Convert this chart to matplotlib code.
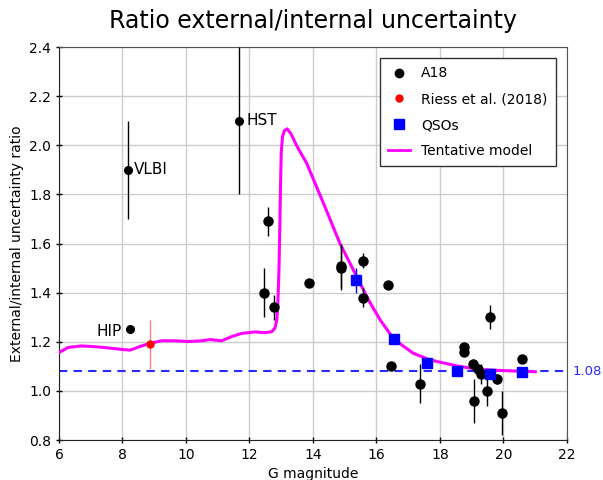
import matplotlib
matplotlib.use("Agg")
import matplotlib.pyplot as plt
from matplotlib.lines import Line2D

plt.rcParams['font.family'] = ['DejaVu Sans']

# A18 sources
a18_g = [12.46, 12.58, 12.77, 13.87, 14.87, 14.87, 15.57, 15.57, 16.37, 16.46,
         17.38, 18.76, 18.76, 19.05, 19.08, 19.20, 19.28, 19.47, 19.56, 19.78,
         19.96, 20.57]
a18_ratio = [1.40, 1.69, 1.34, 1.44, 1.51, 1.50, 1.53, 1.38, 1.43, 1.10,
             1.03, 1.18, 1.16, 1.11, 0.96, 1.09, 1.07, 1.00, 1.30, 1.05,
             0.91, 1.13]
a18_err = [0.10, 0.06, 0.05, 0.0, 0.09, 0.09, 0.03, 0.04, 0.0, 0.0,
           0.08, 0.0, 0.0, 0.02, 0.09, 0.02, 0.04, 0.06, 0.05, 0.02,
           0.09, 0.0]

# Reference catalogues labelled on the plot
ref_names = ["VLBI", "HST", "HIP"]
ref_g = [8.17, 11.67, 8.24]
ref_ratio = [1.90, 2.10, 1.25]
ref_err = [0.20, 0.30, 0.0]

# Riess et al. (2018)
riess_g = [8.87]
riess_ratio = [1.19]
riess_err = [0.10]

# QSOs
qso_g = [15.35, 16.56, 17.58, 18.54, 19.57, 20.57]
qso_ratio = [1.45, 1.21, 1.115, 1.081, 1.069, 1.078]
qso_err = [0.05, 0.0, 0.0, 0.0, 0.0, 0.0]

# Tentative model curve
model_g = [5.98, 6.29, 6.71, 7.13, 7.55, 7.97, 8.24, 8.60, 8.87, 9.23, 9.65,
           10.07, 10.49, 10.76, 11.12, 11.44, 11.75, 12.17, 12.49, 12.70,
           12.80, 12.86, 12.89, 12.93, 12.96, 12.98, 13.00, 13.04, 13.10,
           13.19, 13.30, 13.50, 13.80, 14.33, 14.85, 15.38, 15.75, 16.11,
           16.55, 17.16, 17.69, 18.56, 19.26, 20.30, 21.00]
model_ratio = [1.155, 1.177, 1.183, 1.180, 1.175, 1.169, 1.166, 1.183, 1.194,
               1.204, 1.204, 1.201, 1.204, 1.209, 1.204, 1.221, 1.234, 1.240,
               1.237, 1.241, 1.255, 1.289, 1.343, 1.50, 1.70, 1.85, 1.97,
               2.035, 2.060, 2.067, 2.048, 1.995, 1.927, 1.764, 1.600, 1.465,
               1.370, 1.290, 1.210, 1.153, 1.126, 1.101, 1.087, 1.081, 1.078]

floor_level = 1.08

fig = plt.figure(figsize=(6.03, 4.80), dpi=100)
ax = fig.add_axes([0.0978, 0.0833, 0.8425, 0.8187])

ax.grid(True, color='#cccccc', lw=1.0, zorder=0)
ax.set_axisbelow(True)

ax.axhline(floor_level, color='#2a2aff', ls=(0, (4, 3)), lw=1.5, zorder=2)

ax.plot(model_g, model_ratio, color='#ff00ff', lw=2.2, zorder=3)

ax.errorbar(a18_g, a18_ratio, yerr=a18_err, fmt='o', color='black',
            ms=6.5, elinewidth=1.0, capsize=0, zorder=4)
ax.errorbar(ref_g, ref_ratio, yerr=ref_err, fmt='o', color='black',
            ms=5.5, elinewidth=1.0, capsize=0, zorder=4)
ax.errorbar(riess_g, riess_ratio, yerr=riess_err, fmt='o', color='red',
            ecolor='#ff8080', ms=5, elinewidth=1.0, capsize=0, zorder=4)
ax.errorbar(qso_g, qso_ratio, yerr=qso_err, fmt='s', color='blue',
            ms=7, elinewidth=1.0, capsize=0, zorder=5)

ax.text(ref_g[0] + 0.18, ref_ratio[0], ref_names[0], fontsize=11,
        va='center', ha='left')
ax.text(ref_g[1] + 0.25, ref_ratio[1], ref_names[1], fontsize=11,
        va='center', ha='left')
ax.text(ref_g[2] - 0.25, ref_ratio[2] - 0.01, ref_names[2], fontsize=11,
        va='center', ha='right')

ax.text(1.01, floor_level, "1.08", transform=ax.get_yaxis_transform(),
        color='#2a2aff', fontsize=9.5, va='center', ha='left')

ax.set_xlim(6, 22)
ax.set_ylim(0.8, 2.4)
ax.set_xticks([6, 8, 10, 12, 14, 16, 18, 20, 22])
ax.set_yticks([0.8, 1.0, 1.2, 1.4, 1.6, 1.8, 2.0, 2.2, 2.4])
ax.tick_params(direction='inout', length=4, width=1, labelsize=10)
for side in ['top', 'right']:
    ax.spines[side].set_color('#555555')
for side in ['left', 'bottom']:
    ax.spines[side].set_color('#222222')

ax.set_xlabel("G magnitude", fontsize=10)
ax.set_ylabel("External/internal uncertainty ratio", fontsize=10)
ax.set_title("Ratio external/internal uncertainty", fontsize=17, pad=14)

handles = [
    Line2D([], [], marker='o', color='black', ls='none', ms=6),
    Line2D([], [], marker='o', color='red', ls='none', ms=5),
    Line2D([], [], marker='s', color='blue', ls='none', ms=7),
    Line2D([], [], color='#ff00ff', lw=2),
]
labels = ["A18", "Riess et al. (2018)", "QSOs", "Tentative model"]
leg = ax.legend(handles, labels, loc='upper right', fontsize=10,
                fancybox=False, edgecolor='#333333', framealpha=1,
                handlelength=1.6, borderaxespad=0.8, labelspacing=0.85,
                borderpad=0.6)
leg.get_frame().set_linewidth(1.0)

fig.savefig("out.png", dpi=100)
